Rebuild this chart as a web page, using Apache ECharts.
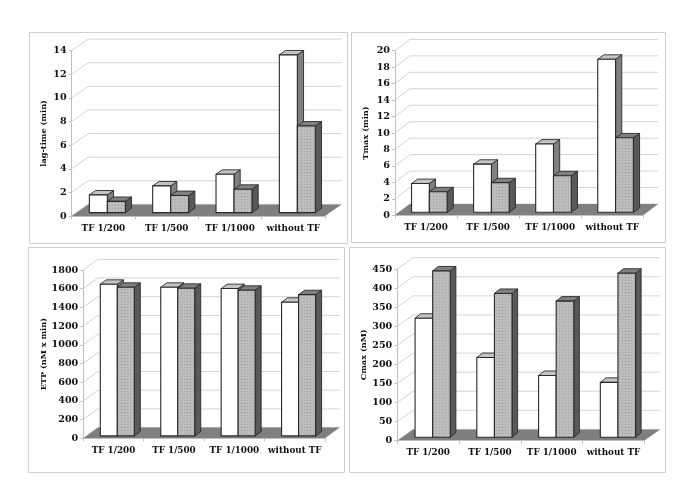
<!DOCTYPE html>
<html>
<head>
<meta charset="utf-8">
<style>html,body{margin:0;padding:0;background:#fff}#c{width:685px;height:503px}</style>
<script src="https://cdn.jsdelivr.net/npm/echarts@6/dist/echarts.min.js"></script>
</head>
<body>
<div id="c"></div>
<script>
const categories = ['TF 1/200', 'TF 1/500', 'TF 1/1000', 'without TF'];

const lagTimeWhite = [1.5, 2.26, 3.25, 13.36];
const lagTimeGray = [0.95, 1.45, 1.98, 7.34];
const tmaxWhite = [3.5, 5.85, 8.3, 18.6];
const tmaxGray = [2.5, 3.6, 4.45, 9.05];
const etpWhite = [1622, 1590, 1576, 1430];
const etpGray = [1590, 1579, 1558, 1511];
const cmaxWhite = [312, 209, 162, 144];
const cmaxGray = [436, 377, 357, 430];

const panels = [
  { name: 'lag-time (min)', white: lagTimeWhite, gray: lagTimeGray, max: 14, step: 2,
    box: [29, 32, 318, 211], left: 71.7, top: 50.7, w: 253.3, h: 165.3,
    depth: [16.5, 11.6], shift: [4, 3.4], barW: 18, bd: [6.2, 4.4], gap: 23.5 },
  { name: 'Tmax (min)', white: tmaxWhite, gray: tmaxGray, max: 20, step: 2,
    box: [351, 32, 314, 210], left: 395, top: 50.7, w: 248.3, h: 164.6,
    depth: [14.8, 11.3], shift: [3.3, 3], barW: 17.8, bd: [6.2, 4.4], gap: 25 },
  { name: 'ETP (nM x min)', white: etpWhite, gray: etpGray, max: 1800, step: 200,
    box: [28, 247, 316, 225], left: 83.3, top: 270, w: 241.7, h: 168.3,
    depth: [14.6, 10.7], shift: [3.8, 2.4], barW: 17, bd: [6, 4.4], gap: 35.8 },
  { name: 'Cmax (nM)', white: cmaxWhite, gray: cmaxGray, max: 450, step: 50,
    box: [349, 247, 316, 225], left: 397.3, top: 269, w: 247, h: 171.7,
    depth: [15.8, 11.3], shift: [4.5, 3.4], barW: 17.6, bd: [5.6, 4.5], gap: 29 }
];

const font = 'DejaVu Serif';
const lineCol = '#d4d4d4';

function dotPattern() {
  const c = document.createElement('canvas');
  c.width = 3; c.height = 3;
  const g = c.getContext('2d');
  g.fillStyle = '#bcbcbc';
  g.fillRect(0, 0, 3, 3);
  g.fillStyle = '#a2a2a2';
  g.fillRect(1, 1, 1, 1);
  return c;
}
const pattern = { image: dotPattern(), repeat: 'repeat' };

function poly(points, fill, stroke, lw) {
  return { type: 'polygon', shape: { points },
    style: { fill, stroke: stroke || null, lineWidth: lw || 0 } };
}

function wallRender(p) {
  return function (params, api) {
    const v = api.value(0);
    const a = api.coord([0, v]);
    const cs = params.coordSys;
    const x0 = cs.x, x1 = cs.x + cs.width, y = a[1];
    const dx = p.depth[0], dy = p.depth[1];
    return { type: 'group', children: [
      { type: 'polyline', shape: { points: [[x0, y], [x0 + dx, y - dy], [x1 + dx, y - dy]] },
        style: { fill: null, stroke: lineCol, lineWidth: 1 } }
    ] };
  };
}

function floorRender(p) {
  return function (params) {
    const cs = params.coordSys;
    const x0 = cs.x, x1 = cs.x + cs.width, y = cs.y + cs.height;
    const dx = p.depth[0], dy = p.depth[1];
    return poly([[x0, y], [x0 + dx, y - dy], [x1 + dx, y - dy], [x1, y]], '#7f7f7f');
  };
}

function barRender(p, isGray) {
  return function (params, api) {
    const top = api.coord([api.value(0), api.value(1)]);
    const base = api.coord([api.value(0), 0]);
    const jx = top[0] + p.shift[0];
    const yT = top[1] - p.shift[1];
    const yB = base[1] - p.shift[1];
    const x0 = isGray ? jx : jx - p.barW;
    const x1 = isGray ? jx + p.barW : jx;
    const dx = p.bd[0], dy = p.bd[1];
    const edge = '#2a2a2a';
    return { type: 'group', children: [
      poly([[x1, yT], [x1 + dx, yT - dy], [x1 + dx, yB - dy], [x1, yB]], isGray ? '#595959' : '#808080', edge, 0.9),
      poly([[x0, yT], [x0 + dx, yT - dy], [x1 + dx, yT - dy], [x1, yT]], isGray ? '#808080' : '#c4c4c4', edge, 0.9),
      poly([[x0, yT], [x1, yT], [x1, yB], [x0, yB]], isGray ? pattern : '#ffffff', edge, 1.1)
    ] };
  };
}

const grid = [], xAxis = [], yAxis = [], series = [], graphic = [];
panels.forEach((p, i) => {
  graphic.push({ type: 'rect', silent: true, z: -10,
    shape: { x: p.box[0] + 0.5, y: p.box[1] + 0.5, width: p.box[2], height: p.box[3] },
    style: { fill: '#fff', stroke: '#cfcfcf', lineWidth: 1 } });
  grid.push({ left: p.left, top: p.top, width: p.w, height: p.h, containLabel: false });
  xAxis.push({ type: 'category', gridIndex: i, data: categories,
    boundaryGap: true,
    axisLine: { show: true, lineStyle: { color: '#c0c0c0', width: 1 } },
    axisTick: { show: true, length: 3, alignWithLabel: false, lineStyle: { color: '#c0c0c0' } },
    axisLabel: { interval: 0, margin: 8, fontFamily: font, fontWeight: 'bold', fontSize: 8.8, color: '#111' },
    z: 3 });
  const ticks = [];
  for (let v = 0; v <= p.max; v += p.step) ticks.push([v]);
  yAxis.push({ type: 'value', gridIndex: i, min: 0, max: p.max, interval: p.step,
    name: p.name, nameLocation: 'middle', nameGap: p.gap, nameRotate: 90, nameMoveOverlap: false,
    nameTextStyle: { fontFamily: font, fontWeight: 'bold', fontSize: 8.2, color: '#111' },
    axisLine: { show: true, lineStyle: { color: '#c0c0c0', width: 1 } },
    axisTick: { show: true, length: 3, lineStyle: { color: '#c0c0c0' } },
    axisLabel: { margin: 5, fontFamily: font, fontWeight: 'bold', fontSize: 9.6, color: '#111',
      formatter: function (v) { return String(v); } },
    splitLine: { show: false } });
  series.push({ type: 'custom', xAxisIndex: i, yAxisIndex: i, coordinateSystem: 'cartesian2d',
    renderItem: wallRender(p), data: ticks, encode: { y: 0 }, silent: true, z: 1 });
  series.push({ type: 'custom', xAxisIndex: i, yAxisIndex: i, coordinateSystem: 'cartesian2d',
    renderItem: floorRender(p), data: [[0]], encode: { y: 0 }, silent: true, z: 2 });
  series.push({ type: 'custom', xAxisIndex: i, yAxisIndex: i, coordinateSystem: 'cartesian2d',
    renderItem: barRender(p, false), data: p.white.map((v, k) => [k, v]), encode: { x: 0, y: 1 }, silent: true, z: 4 });
  series.push({ type: 'custom', xAxisIndex: i, yAxisIndex: i, coordinateSystem: 'cartesian2d',
    renderItem: barRender(p, true), data: p.gray.map((v, k) => [k, v]), encode: { x: 0, y: 1 }, silent: true, z: 5 });
});

const chart = echarts.init(document.getElementById('c'), null, { renderer: 'canvas' });
chart.setOption({ animation: false, backgroundColor: '#fff', grid, xAxis, yAxis, series, graphic });
</script>
</body>
</html>
